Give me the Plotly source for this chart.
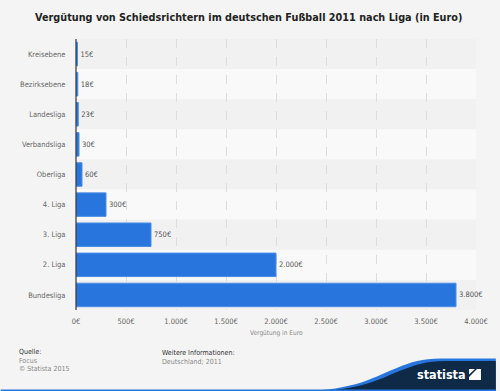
import plotly.graph_objects as go

categories = ["Kreisebene", "Bezirksebene", "Landesliga", "Verbandsliga", "Oberliga",
              "4. Liga", "3. Liga", "2. Liga", "Bundesliga"]
values = [15, 18, 23, 30, 60, 300, 750, 2000, 3800]
tick_vals = [0, 500, 1000, 1500, 2000, 2500, 3000, 3500, 4000]
tick_labels = ["0€", "500€", "1.000€", "1.500€", "2.000€", "2.500€", "3.000€", "3.500€", "4.000€"]

W, H = 500, 391
ML, MR, MT, MB = 76, 20, 39, 81
PW, PH = W - ML - MR, H - MT - MB

def px(x):
    return (x - ML) / PW

def py(y):
    return (H - MB - y) / PH

BLUE = "#2876dd"
NAVY = "#0e2a47"
FONT = "DejaVu Sans Condensed"

fig = go.Figure()
fig.add_trace(go.Bar(
    y=categories, x=values, orientation="h",
    marker=dict(color=BLUE, line=dict(color="#4a8ee6", width=1)),
    texttemplate="%{x:,d}€", textposition="outside", cliponaxis=False,
    textfont=dict(family=FONT, size=7.5, color="#555555"),
    hoverinfo="skip",
))

shapes = []
for i, c in enumerate(categories):
    shapes.append(dict(type="rect", xref="paper", yref="y", x0=0, x1=1,
                       y0=i - 0.5, y1=i + 0.5, layer="below", line_width=0,
                       fillcolor="#f1f1f1" if i % 2 == 0 else "#f9f9f9"))
shapes.append(dict(type="line", xref="paper", yref="paper", x0=0, x1=0, y0=0, y1=1,
                   line=dict(color="#333333", width=1.2), layer="above"))

blue_path = (f"M {px(300)},{py(391)} "
             f"C {px(360)},{py(391)} {px(380)},{py(375)} {px(400)},{py(368)} "
             f"C {px(415)},{py(362)} {px(425)},{py(358.5)} {px(445)},{py(358.5)} "
             f"L {px(500)},{py(358.5)} L {px(500)},{py(391)} Z")
navy_path = (f"M {px(312)},{py(391)} "
             f"C {px(366)},{py(391)} {px(386)},{py(377)} {px(404)},{py(370.5)} "
             f"C {px(419)},{py(365)} {px(429)},{py(361)} {px(449)},{py(361)} "
             f"L {px(500)},{py(361)} L {px(500)},{py(391)} Z")
shapes.append(dict(type="path", xref="paper", yref="paper", path=blue_path,
                   fillcolor=BLUE, line_width=0, layer="above"))
shapes.append(dict(type="path", xref="paper", yref="paper", path=navy_path,
                   fillcolor=NAVY, line_width=0, layer="above"))
shapes.append(dict(type="rect", xref="paper", yref="paper", x0=px(0), x1=px(500),
                   y0=py(391), y1=py(389.5), fillcolor=BLUE, line_width=0, layer="above"))
shapes.append(dict(type="path", xref="paper", yref="paper",
                   path=(f"M {px(473)},{py(380)} L {px(473)},{py(377)} L {px(481)},{py(369)} "
                         f"L {px(485)},{py(369)} L {px(485)},{py(380)} Z"),
                   fillcolor="white", line_width=0, layer="above"))
shapes.append(dict(type="path", xref="paper", yref="paper",
                   path=(f"M {px(473)},{py(369)} L {px(479)},{py(369)} L {px(473)},{py(374.5)} Z"),
                   fillcolor="white", line_width=0, layer="above"))

def ann(text, x, y, size, color, xanchor="center", family=FONT):
    return dict(text=text, x=px(x), y=py(y), xref="paper", yref="paper", showarrow=False,
                xanchor=xanchor, yanchor="middle",
                font=dict(family=family, size=size, color=color))

annotations = [
    ann("<b>Vergütung von Schiedsrichtern im deutschen Fußball 2011 nach Liga (in Euro)</b>",
        250, 18, 9.7, "#222222", family="DejaVu Sans"),
    ann("Vergütung in Euro", 278, 333, 6.5, "#888888"),
    ann("Quelle:", 16, 352, 7, "#333333", "left"),
    ann("Focus", 16, 360.5, 7, "#888888", "left"),
    ann("© Statista 2015", 16, 369, 7, "#888888", "left"),
    ann("Weitere Informationen:", 161, 353, 7, "#333333", "left"),
    ann("Deutschland; 2011", 161, 362, 7, "#888888", "left"),
    ann("<b>statista</b>", 445, 374, 12.5, "white"),
]

fig.update_layout(
    width=W, height=H,
    margin=dict(l=ML, r=MR, t=MT, b=MB),
    paper_bgcolor="#f4f4f4", plot_bgcolor="#f4f4f4",
    separators=",.",
    showlegend=False,
    bargap=0.22,
    shapes=shapes,
    annotations=annotations,
    xaxis=dict(range=[0, 4000], tickvals=tick_vals, ticktext=tick_labels,
               showgrid=True, gridcolor="#dddddd", griddash="dash", gridwidth=1,
               zeroline=False, showline=False, ticks="outside", ticklen=4,
               tickcolor="rgba(0,0,0,0)",
               tickfont=dict(family=FONT, size=7.5, color="#666666"),
               fixedrange=True),
    yaxis=dict(categoryorder="array", categoryarray=categories, autorange="reversed",
               showgrid=False, zeroline=False, showline=False, ticks="outside",
               ticklen=8, tickcolor="rgba(0,0,0,0)",
               tickfont=dict(family=FONT, size=7.5, color="#666666"),
               fixedrange=True),
)

fig.write_html("out.html", config={"displayModeBar": False},
               post_script="document.body.style.margin='0';document.body.style.overflow='hidden';")
